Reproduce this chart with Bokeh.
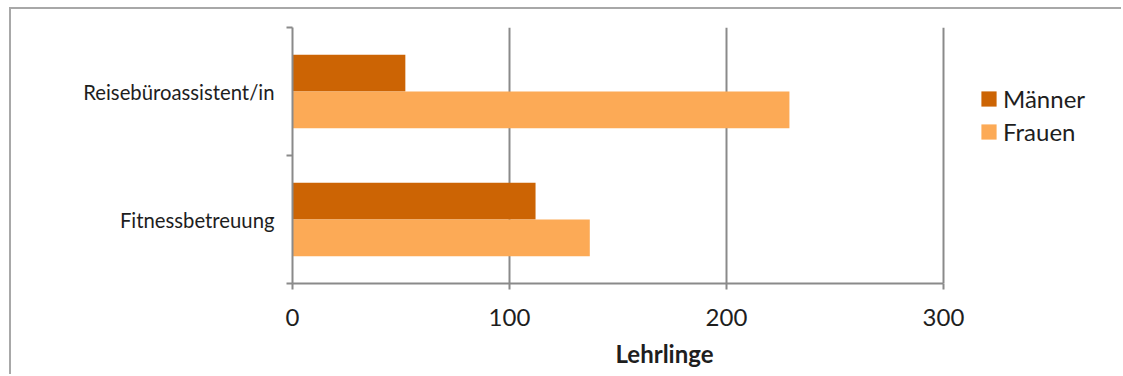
from bokeh.plotting import figure
from bokeh.models import (Range1d, LinearAxis, FixedTicker, Legend,
                          LegendItem, Title, ColumnDataSource)
from bokeh.transform import dodge
from bokeh.embed import file_html
from bokeh.resources import INLINE

categories = ["Fitnessbetreuung", "Reisebüroassistent/in"]
maenner = [112, 52]
frauen = [137, 229]
series_names = ["Männer", "Frauen"]
x_ticks = [0, 100, 200, 300]
axis_title = "Lehrlinge"

FONT = "Lato"
TXT = "#1e1e1e"
GRID = "#8a8a8a"
C_M = "#CC6404"
C_F = "#FCAA56"

n = len(categories)
centers = [i + 0.5 for i in range(n)]  # category slot centres on the value axis
src = ColumnDataSource(dict(pos=centers, m=maenner, f=frauen))

# layout (pixels): value axis 0..300 spans 651 px; the frame continues to the
# right so that the legend can sit inside it
FIG_W, FIG_H = 1112, 367
LEFT, RIGHT, TOP, BOTTOM = 281, 10, 18, 92
AXIS_PX = 651
frame_px = FIG_W - LEFT - RIGHT
x_max = x_ticks[-1] * frame_px / AXIS_PX

p = figure(width=FIG_W, height=FIG_H, y_range=Range1d(0, n),
           x_range=Range1d(0, x_max), output_backend="svg", toolbar_location=None,
           y_axis_location=None, x_axis_location=None,
           min_border_left=LEFT, min_border_right=RIGHT, min_border_top=TOP,
           min_border_bottom=BOTTOM,
           styles={"margin-left": "9px", "margin-top": "7px",
                   "border-left": "2px solid #a8a8a8", "border-top": "2px solid #a8a8a8"})
p.outline_line_color = None
p.background_fill_color = "white"
p.border_fill_color = "white"

bh = 0.288
rm = p.hbar(y=dodge("pos", bh / 2), right="m", left=0, height=bh,
            source=src, fill_color=C_M, line_color=None)
rf = p.hbar(y=dodge("pos", -bh / 2), right="f", left=0, height=bh,
            source=src, fill_color=C_F, line_color=None)

# x axis
xa = LinearAxis(ticker=FixedTicker(ticks=x_ticks), bounds=(x_ticks[0], x_ticks[-1]))
xa.axis_line_color = GRID
xa.axis_line_width = 2
xa.major_tick_line_color = GRID
xa.major_tick_line_width = 2
xa.major_tick_out = 6
xa.major_tick_in = 0
xa.minor_tick_line_color = None
xa.major_label_text_font = FONT
xa.major_label_text_font_size = "24px"
xa.major_label_text_color = TXT
xa.major_label_standoff = 19
p.add_layout(xa, "below")

# y axis: labels at category centres, ticks between categories
ya = LinearAxis(ticker=FixedTicker(ticks=centers, minor_ticks=list(range(n + 1))))
ya.major_label_overrides = {c: lab for c, lab in zip(centers, categories)}
ya.axis_line_color = GRID
ya.axis_line_width = 2
ya.major_tick_line_color = None
ya.minor_tick_line_color = GRID
ya.minor_tick_line_width = 2
ya.minor_tick_out = 6
ya.minor_tick_in = 0
ya.major_label_text_font = FONT
ya.major_label_text_font_size = "20.3px"
ya.major_label_text_color = TXT
ya.major_label_standoff = 12
p.add_layout(ya, "left")

p.xgrid.ticker = FixedTicker(ticks=x_ticks[1:])
p.xgrid.grid_line_color = GRID
p.xgrid.grid_line_width = 2
p.ygrid.grid_line_color = None

t = Title(text=axis_title, align="left", offset=323, text_font=FONT,
          text_font_size="24px", text_font_style="bold", text_color=TXT, standoff=17)
p.add_layout(t, "below")

legend = Legend(items=[LegendItem(label=series_names[0], renderers=[rm]),
                       LegendItem(label=series_names[1], renderers=[rf])],
                location=(687, 137))
legend.glyph_width = 19
legend.glyph_height = 19
legend.label_standoff = 5
legend.label_text_font = FONT
legend.label_text_font_size = "24px"
legend.label_text_color = TXT
legend.spacing = 4
legend.padding = 0
legend.margin = 0
legend.border_line_color = None
legend.background_fill_alpha = 0
p.add_layout(legend, "center")

open("out.html", "w").write(file_html(p, INLINE))
